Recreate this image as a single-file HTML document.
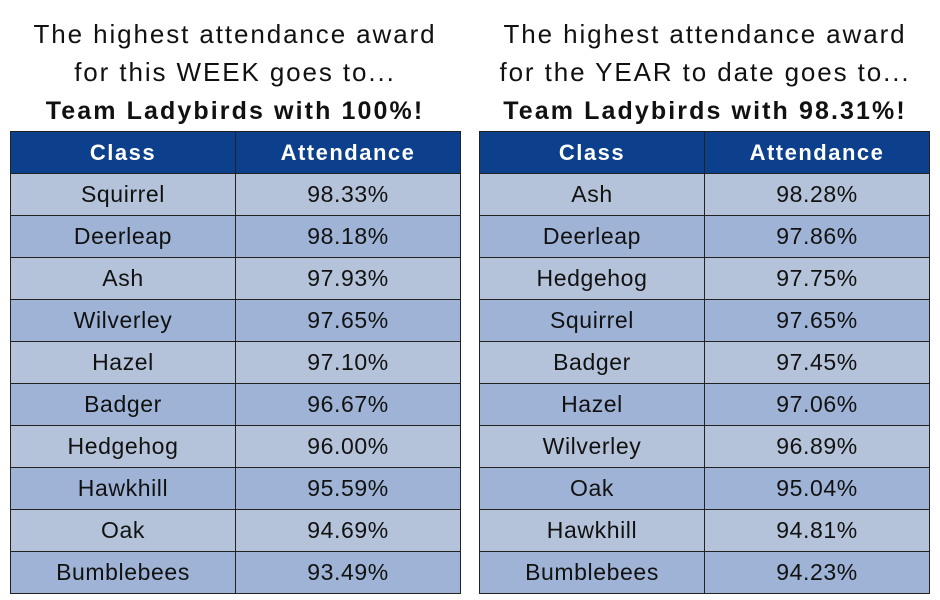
<!DOCTYPE html>
<html><head><style>
body{margin:0;width:940px;height:600px;background:#fff;font-family:"Liberation Sans",sans-serif;position:relative;overflow:hidden}
.t{position:absolute;width:470px;text-align:center;color:#111;font-size:26px;line-height:38px;letter-spacing:1.9px}
.t b{font-size:25px;letter-spacing:2.1px}
table{position:absolute;top:131px;border-collapse:collapse;width:451px}
td,th{border:1px solid #222;height:41px;padding:0;text-align:center;font-size:23px;width:50%;color:#111;letter-spacing:0.6px}
th{background:#0c3f8c;color:#fff;font-weight:bold;font-size:22px;letter-spacing:1.5px}
tr:nth-child(even) td{background:#b4c3d9}
tr:nth-child(odd) td{background:#9eb3d5}
</style></head><body>
<div class="t" style="left:0;top:15px">The highest attendance award<br>for this WEEK goes to...<br><b>Team Ladybirds with 100%!</b></div>
<div class="t" style="left:470px;top:15px">The highest attendance award<br>for the YEAR to date goes to...<br><b>Team Ladybirds with 98.31%!</b></div>
<table style="left:10px">
<tr><th>Class</th><th>Attendance</th></tr>
<tr><td>Squirrel</td><td>98.33%</td></tr>
<tr><td>Deerleap</td><td>98.18%</td></tr>
<tr><td>Ash</td><td>97.93%</td></tr>
<tr><td>Wilverley</td><td>97.65%</td></tr>
<tr><td>Hazel</td><td>97.10%</td></tr>
<tr><td>Badger</td><td>96.67%</td></tr>
<tr><td>Hedgehog</td><td>96.00%</td></tr>
<tr><td>Hawkhill</td><td>95.59%</td></tr>
<tr><td>Oak</td><td>94.69%</td></tr>
<tr><td>Bumblebees</td><td>93.49%</td></tr>
</table>
<table style="left:479px">
<tr><th>Class</th><th>Attendance</th></tr>
<tr><td>Ash</td><td>98.28%</td></tr>
<tr><td>Deerleap</td><td>97.86%</td></tr>
<tr><td>Hedgehog</td><td>97.75%</td></tr>
<tr><td>Squirrel</td><td>97.65%</td></tr>
<tr><td>Badger</td><td>97.45%</td></tr>
<tr><td>Hazel</td><td>97.06%</td></tr>
<tr><td>Wilverley</td><td>96.89%</td></tr>
<tr><td>Oak</td><td>95.04%</td></tr>
<tr><td>Hawkhill</td><td>94.81%</td></tr>
<tr><td>Bumblebees</td><td>94.23%</td></tr>
</table>
</body></html>
